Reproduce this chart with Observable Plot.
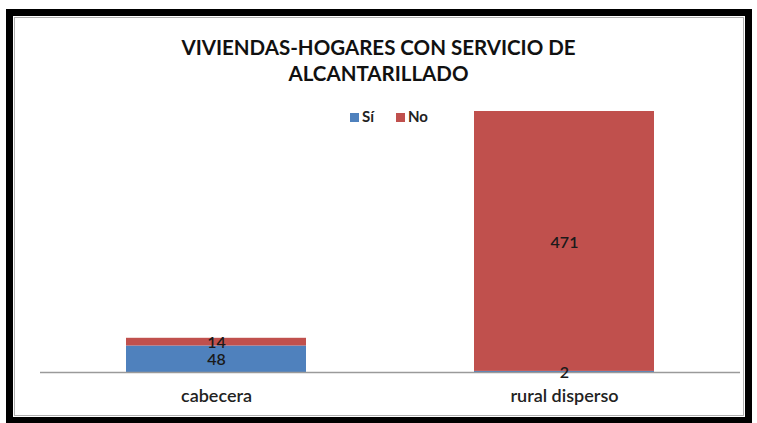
<!DOCTYPE html>
<html>
<head>
<meta charset="utf-8">
<script src="https://cdn.jsdelivr.net/npm/d3@7"></script>
<script src="https://cdn.jsdelivr.net/npm/@observablehq/plot@0.6"></script>
<style>
  html, body { margin: 0; padding: 0; background: #fff; }
  #wrap { position: relative; width: 757px; height: 423px; overflow: hidden; font-family: Lato, "Open Sans", sans-serif; }
  #frame { position: absolute; left: 6px; top: 9px; width: 732px; height: 401px; border: 7px solid #000; }
  #inner { position: absolute; left: 1px; top: 1px; right: 1px; bottom: 1px; border: 1px solid #b0b0b0; }
  #title { position: absolute; left: 0; width: 757px; top: 34px; text-align: center; font-weight: 700; font-size: 20.5px; line-height: 26px; color: #111; }
  #legend { position: absolute; top: 107px; left: 350px; font-size: 15px; font-weight: 700; color: #222; white-space: nowrap; }
  #legend span.sw { display: inline-block; width: 9px; height: 9px; margin-right: 3px; vertical-align: 0px; }
  #legend span.item { margin-right: 22px; }
  #chart { position: absolute; left: 0; top: 0; }
</style>
</head>
<body>
<div id="wrap">
  <div id="frame"><div id="inner"></div></div>
  <div id="chart"></div>
  <div id="title"></div>
  <div id="legend"></div>
</div>
<script>
const titleLines = ["VIVIENDAS-HOGARES CON SERVICIO DE", "ALCANTARILLADO"];
const categories = ["cabecera", "rural disperso"];
const series = ["Sí", "No"];
const siValues = [48, 2];
const noValues = [14, 471];
const colors = ["#4F81BD", "#C0504D"];

const data = [];
categories.forEach((c, i) => {
  data.push({cat: c, serie: "Sí", value: siValues[i]});
  data.push({cat: c, serie: "No", value: noValues[i]});
});

document.getElementById("title").innerHTML = titleLines.join("<br>");
const legend = document.getElementById("legend");
series.forEach((s, i) => {
  const item = document.createElement("span");
  item.className = "item";
  const sw = document.createElement("span");
  sw.className = "sw";
  sw.style.background = colors[i];
  item.appendChild(sw);
  item.appendChild(document.createTextNode(s));
  legend.appendChild(item);
});

const stackOpts = {x: "cat", y: "value", z: "serie", order: series};

const chart = Plot.plot({
  width: 757,
  height: 423,
  marginLeft: 40,
  marginRight: 17,
  marginTop: 111,
  marginBottom: 51,
  style: {fontFamily: "Lato, 'Open Sans', sans-serif", background: "transparent"},
  x: {domain: categories, paddingInner: 0.484, paddingOuter: 0.245, label: null},
  y: {domain: [0, 473], axis: null},
  color: {domain: series, range: colors},
  marks: [
    Plot.barY(data, Plot.stackY({...stackOpts, fill: "serie"})),
    Plot.ruleY([0], {stroke: "#9a9a9a", strokeWidth: 1.5}),
    Plot.text(data, Plot.stackY({...stackOpts, text: d => String(d.value), fontSize: 16, fill: "#1a1a1a", fontWeight: 600, dy: 1})),
    Plot.axisX({tickSize: 0, tickPadding: 17, fontSize: 18, fontWeight: 600, color: "#222", label: null})
  ]
});
document.getElementById("chart").appendChild(chart);
</script>
</body>
</html>
